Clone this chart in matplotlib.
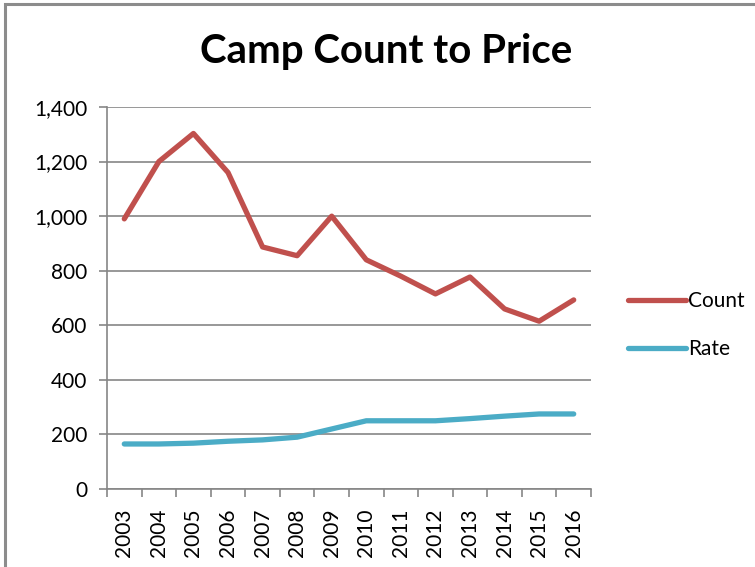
import matplotlib
matplotlib.use("Agg")
import matplotlib.pyplot as plt
from matplotlib.patches import Rectangle
from matplotlib.ticker import FuncFormatter

years = ["2003", "2004", "2005", "2006", "2007", "2008", "2009",
         "2010", "2011", "2012", "2013", "2014", "2015", "2016"]
count = [990, 1200, 1303, 1160, 887, 855, 1000, 840, 780, 715, 777, 660, 615, 693]
rate = [165, 165, 168, 175, 180, 190, 220, 250, 250, 250, 258, 267, 275, 275]

plt.rcParams['font.family'] = ['Lato', 'DejaVu Sans']

fig = plt.figure(figsize=(7.55, 5.67), dpi=100)
fig.patch.set_facecolor("white")
fig.add_artist(Rectangle((5/755, -0.01), 1.02, 1 - 4/567 + 0.01, transform=fig.transFigure,
                         fill=False, edgecolor="#8c8c8c", linewidth=2.2))

ax = fig.add_axes([107/755, 1 - 489/567, (591-107)/755, (489-107)/567])
x = list(range(len(years)))
ax.plot(x, count, color="#C0504D", linewidth=3.8, solid_capstyle="round", solid_joinstyle="round", label="Count")
ax.plot(x, rate, color="#4BACC6", linewidth=3.8, solid_capstyle="round", solid_joinstyle="round", label="Rate")

ax.set_xlim(-0.5, len(years) - 0.5)
ax.set_ylim(0, 1400)
ax.set_yticks(range(0, 1401, 200))
ax.yaxis.set_major_formatter(FuncFormatter(lambda v, p: f"{int(v):,}"))
ax.grid(axis="y", color="#868686", linewidth=1.2)
ax.set_axisbelow(True)

ax.set_xticks(x)
ax.set_xticklabels(years, rotation=90, fontsize=15)
ax.tick_params(axis="x", which="major", length=0, pad=14)
ax.set_xticks([i - 0.5 for i in range(len(years) + 1)], minor=True)
ax.tick_params(axis="x", which="minor", length=6, width=1.2, color="#868686", direction="out")
ax.tick_params(axis="y", length=6, width=1.2, color="#868686", labelsize=15, pad=8)

for s in ["top", "right"]:
    ax.spines[s].set_visible(False)
for s in ["left", "bottom"]:
    ax.spines[s].set_color("#868686")
    ax.spines[s].set_linewidth(1.2)

fig.text(386/755, 1 - 51/567, "Camp Count to Price", ha="center", va="center",
         fontsize=29, fontweight="bold")

leg = fig.legend(loc="center left", bbox_to_anchor=(609/755, 1 - 325/567), frameon=False,
                 fontsize=15, handlelength=2.8, handletextpad=0.1, labelspacing=1.35)

fig.savefig("out.png", dpi=100)
